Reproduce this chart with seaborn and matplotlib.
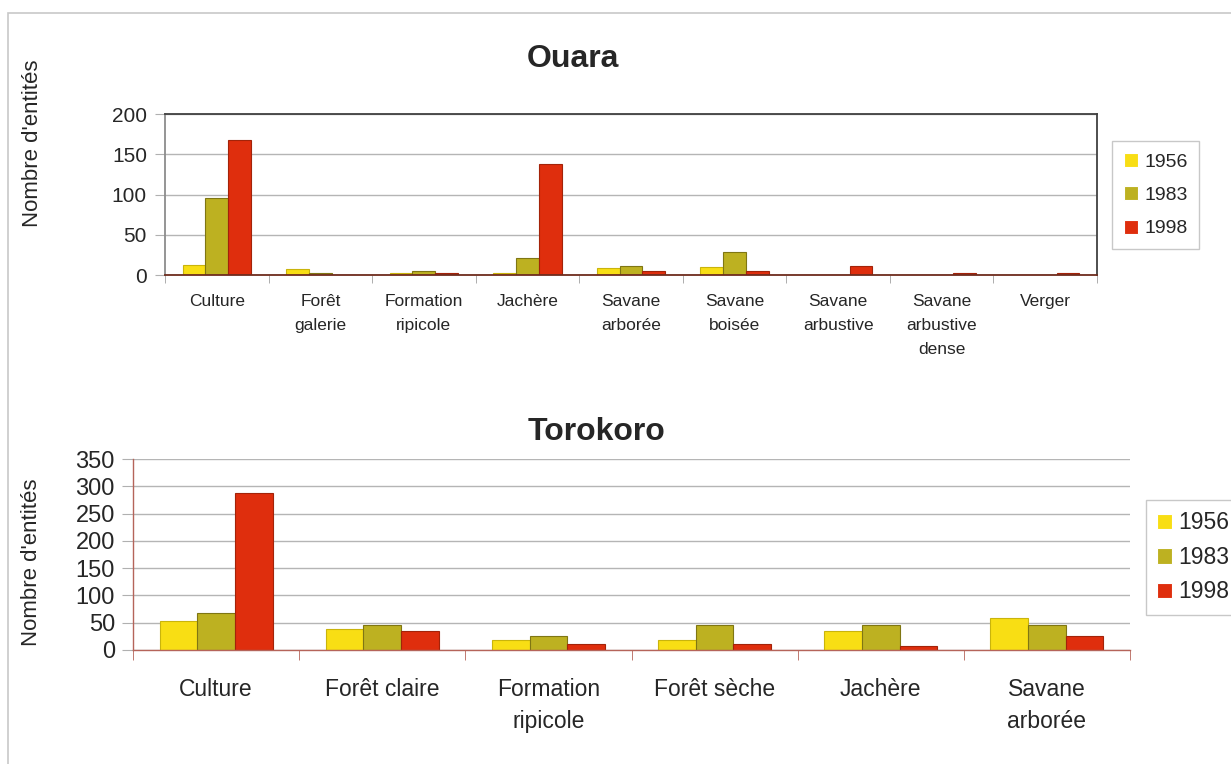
"""Nombre d'entités par type d'occupation du sol, Ouara et Torokoro (1956, 1983, 1998)."""

import numpy as np
import pandas as pd
import seaborn as sb
from matplotlib import pyplot as plt
from matplotlib.patches import Rectangle

# data
years = ["1956", "1983", "1998"]

ouara_cats = ["Culture", "Forêt\ngalerie", "Formation\nripicole", "Jachère",
              "Savane\narborée", "Savane\nboisée", "Savane\narbustive",
              "Savane\narbustive\ndense", "Verger"]
ouara_1956 = [12, 8, 3, 3, 9, 10, 0, 0, 0]
ouara_1983 = [96, 3, 5, 21, 11, 28, 0, 0, 0]
ouara_1998 = [168, 0, 2, 138, 5, 5, 11, 3, 3]

torokoro_cats = ["Culture", "Forêt claire", "Formation\nripicole", "Forêt sèche",
                 "Jachère", "Savane\narborée"]
torokoro_1956 = [54, 39, 18, 18, 34, 59]
torokoro_1983 = [67, 46, 26, 46, 46, 46]
torokoro_1998 = [288, 34, 11, 11, 8, 26]

colors = ["#f8de14", "#bdb121", "#df2e0d"]
edges = ["#c9b40c", "#7f7613", "#a32309"]

sb.set_style("white")
plt.rcParams['font.family'] = ['Liberation Sans', 'DejaVu Sans']

W, H = 1231, 764
fig = plt.figure(figsize=(W / 100, H / 100), dpi=100)


def fig_box(left, top, right, bottom):
    """pixel box -> figure fraction [l, b, w, h]"""
    return [left / W, 1 - bottom / H, (right - left) / W, (bottom - top) / H]


def long_table(cats, series):
    rows = []
    for yr, vals in zip(years, series):
        for c, v in zip(cats, vals):
            rows.append({"cat": c, "n": v, "Year": yr})
    return pd.DataFrame(rows)


def draw_panel(ax, cats, series, width, label_size):
    df = long_table(cats, series)
    sb.barplot(data=df, x="cat", y="n", hue="Year", order=cats, hue_order=years,
               palette=colors, saturation=1, width=width, ax=ax, linewidth=0.8)
    for cont, ec in zip(ax.containers, edges):
        for bar in cont:
            bar.set_edgecolor(ec)
    n = len(cats)
    ax.set_xlim(-0.5, n - 0.5)
    ax.set_xticks(range(n), cats, fontsize=label_size, va="top")
    ax.set_xticks(np.arange(-0.5, n, 1), minor=True)
    ax.set_xlabel("")
    ax.set_axisbelow(True)
    ax.yaxis.grid(True, color="#b5b5b5", lw=1)


# Ouara
ax1 = fig.add_axes(fig_box(165, 114, 1097, 275))
draw_panel(ax1, ouara_cats, [ouara_1956, ouara_1983, ouara_1998], 0.66, 12.5)
ax1.set_ylim(0, 200)
ax1.set_yticks(range(0, 201, 50))
ax1.tick_params(axis="y", labelsize=15, length=7, color="#b0b0b0", pad=6, left=True)
ax1.tick_params(axis="x", which="major", length=0, pad=14)
ax1.tick_params(axis="x", which="minor", length=6, color="#a0a0a0", bottom=True)
for side, col in [("left", "#8c8c8c"), ("top", "#404040"), ("right", "#404040"), ("bottom", "#6e2c1e")]:
    ax1.spines[side].set_visible(True)
    ax1.spines[side].set_color(col)
    ax1.spines[side].set_linewidth(1.3)
ax1.set_ylabel("Nombre d'entités", fontsize=16)
ax1.yaxis.set_label_coords(43 / W, 1 - 143 / H, transform=fig.transFigure)
h, l = ax1.get_legend_handles_labels()
ax1.legend(h, l, loc="upper left", bbox_to_anchor=(1112 / W, 1 - 141 / H),
           bbox_transform=fig.transFigure, fontsize=14, frameon=True, fancybox=False,
           edgecolor="#c8c8c8", framealpha=1, handlelength=0.75, handleheight=0.75,
           handletextpad=0.3, labelspacing=0.8, borderpad=0.6, borderaxespad=0)
fig.text(573 / W, 1 - 59 / H, "Ouara", ha="center", va="center",
         fontsize=23, fontweight="bold")

# Torokoro
ax2 = fig.add_axes(fig_box(133, 459, 1130, 650))
draw_panel(ax2, torokoro_cats, [torokoro_1956, torokoro_1983, torokoro_1998], 0.68, 16.5)
ax2.set_ylim(0, 350)
ax2.set_yticks(range(0, 351, 50))
ax2.tick_params(axis="y", labelsize=17, length=8, color="#b0b0b0", pad=5, left=True)
ax2.tick_params(axis="x", which="major", length=0, pad=20)
ax2.tick_params(axis="x", which="minor", length=7, color="#b5645a", bottom=True)
ax2.spines["top"].set_visible(False)
ax2.spines["right"].set_visible(False)
for side in ["left", "bottom"]:
    ax2.spines[side].set_color("#b5645a")
    ax2.spines[side].set_linewidth(1)
ax2.set_ylabel("Nombre d'entités", fontsize=16)
ax2.yaxis.set_label_coords(42 / W, 1 - 562 / H, transform=fig.transFigure)
h, l = ax2.get_legend_handles_labels()
ax2.legend(h, l, loc="upper left", bbox_to_anchor=(1146 / W, 1 - 500 / H),
           bbox_transform=fig.transFigure, fontsize=16.5, frameon=True, fancybox=False,
           edgecolor="#c8c8c8", framealpha=1, handlelength=0.65, handleheight=0.65,
           handletextpad=0.25, labelspacing=0.5, borderpad=0.5, borderaxespad=0)
fig.text(597 / W, 1 - 432 / H, "Torokoro", ha="center", va="center",
         fontsize=23, fontweight="bold")

# light frame round the whole chart
fig.patches.append(Rectangle((8 / W, -0.1), 1.2, 1 - 13 / H + 0.1, transform=fig.transFigure,
                             fill=False, edgecolor="#c8c8c8", lw=1.2))

# line spacing of the wrapped category labels (ticks exist only after a draw)
fig.canvas.draw()
for lbl in ax1.get_xticklabels():
    lbl.set_linespacing(1.75)
for lbl in ax2.get_xticklabels():
    lbl.set_linespacing(1.5)

fig.savefig("out.png", dpi=100)
